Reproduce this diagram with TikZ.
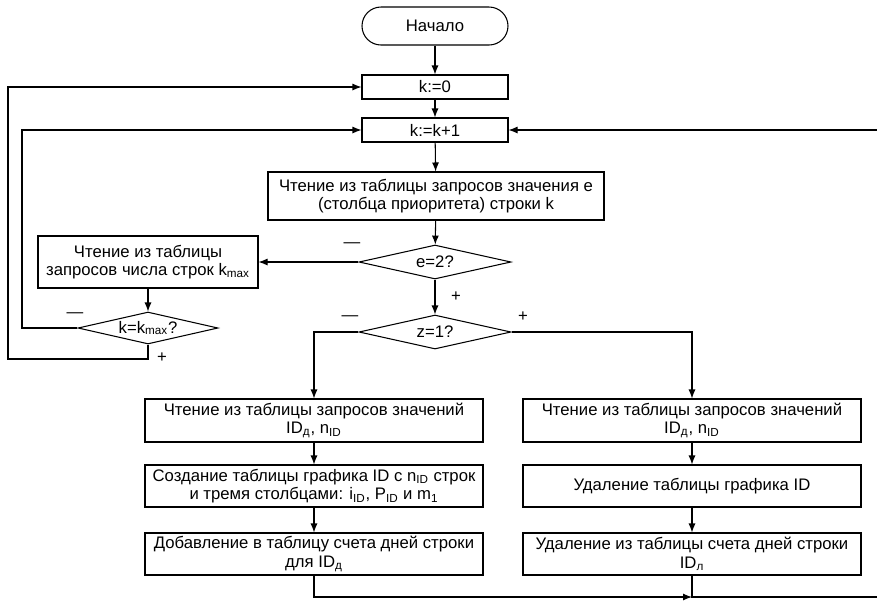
\documentclass[tikz,border=0pt]{standalone}
\usepackage{fontspec}
\setmainfont{Liberation Sans}
\usetikzlibrary{arrows.meta, shapes.geometric}

\begin{document}
\begin{tikzpicture}[>={Latex[length=1.8mm, width=1.4mm]}, line width=0.6pt,
  every node/.style={font=\fontsize{9.5}{10.6}\selectfont},
  box/.style={draw, rectangle, align=center, minimum width=6.76cm, inner sep=1pt},
  smallbox/.style={draw, rectangle, align=center, inner sep=1pt},
  decision/.style={draw, diamond, aspect=4.5, inner sep=0pt, minimum width=3.04cm, minimum height=0.68cm},
  term/.style={draw, rectangle, rounded corners=0.38cm, minimum width=2.92cm, minimum height=0.76cm},
  sign/.style={inner sep=0pt}]
\useasboundingbox (0,0) rectangle (17.54,-12.08);
\node[term] (start) at (8.70,-0.52) {Начало};
\node[smallbox, minimum width=2.92cm, minimum height=0.48cm] (kzero) at (8.70,-1.74) {k:=0};
\node[smallbox, minimum width=2.92cm, minimum height=0.48cm] (kinc)  at (8.70,-2.60) {k:=k+1};
\node[smallbox, minimum width=6.72cm, minimum height=0.96cm] (reade) at (8.72,-3.92)
  {Чтение из таблицы запросов значения е\\(столбца приоритета) строки k};
\node[decision] (echeck) at (8.70,-5.24) {e=2?};
\node[decision] (zcheck) at (8.70,-6.64) {z=1?};
\node[smallbox, minimum width=4.40cm, minimum height=1.04cm] (readkmax) at (2.96,-5.24)
  {Чтение из таблицы\\запросов числа строк k\textsubscript{max}};
\node[decision, minimum width=2.80cm, minimum height=0.64cm] (kcheck) at (2.96,-6.56) {k=k\textsubscript{max}?};
% left branch
\node[box, minimum height=0.86cm] (readL) at (6.28,-8.41) {Чтение из таблицы запросов значений\\ID\textsubscript{д}, n\textsubscript{ID}};
\node[box, minimum height=0.84cm] (makeL) at (6.28,-9.72) {Создание таблицы графика ID с n\textsubscript{ID} строк\\и тремя столбцами: i\textsubscript{ID}, P\textsubscript{ID} и m\textsubscript{1}};
\node[box, minimum height=0.84cm] (addL)  at (6.28,-11.08) {Добавление в таблицу счета дней строки\\для ID\textsubscript{д}};
% right branch
\node[box, minimum height=0.86cm] (readR) at (13.84,-8.41) {Чтение из таблицы запросов значений\\ID\textsubscript{д}, n\textsubscript{ID}};
\node[box, minimum height=0.84cm] (delR)  at (13.84,-9.72) {Удаление таблицы графика ID};
\node[box, minimum height=0.84cm] (remR)  at (13.84,-11.08) {Удаление из таблицы счета дней строки\\ID\textsubscript{л}};
\coordinate (merge) at (13.84,-11.94);
\coordinate (loopend) at (17.54,-11.94);
\coordinate (loopstart) at (17.54,-2.60);

\draw[->] (start) -- (kzero);
\draw[->] (kzero) -- (kinc);
\draw[->] (kinc) -- (reade);
\draw[->] (reade) -- (echeck);
\draw[->] (echeck.west) -- (readkmax.east);
\draw[->] (echeck) -- (zcheck);
\draw[->] (readkmax) -- (kcheck);
\draw[->] (kcheck.west) -- (0.44,-6.56) |- (kinc.west);
\draw[->] (kcheck.south) |- (0.16,-7.18) |- (kzero.west);
\draw[->] (zcheck.west) -| (readL.north);
\draw[->] (zcheck.east) -| (readR.north);
\draw[->] (readL) -- (makeL);
\draw[->] (makeL) -- (addL);
\draw[->] (readR) -- (delR);
\draw[->] (delR) -- (remR);
\draw[->] (addL.south) |- (merge);
\draw (remR.south) -- (merge) -- (loopend);
\draw[->] (loopstart) -- (kinc.east);

\node[sign] at (7.04,-4.90) {—};
\node[sign] at (9.12,-5.94) {+};
\node[sign] at (7.00,-6.36) {—};
\node[sign] at (10.46,-6.34) {+};
\node[sign] at (1.50,-6.30) {—};
\node[sign] at (3.24,-7.16) {+};
\end{tikzpicture}
\end{document}
